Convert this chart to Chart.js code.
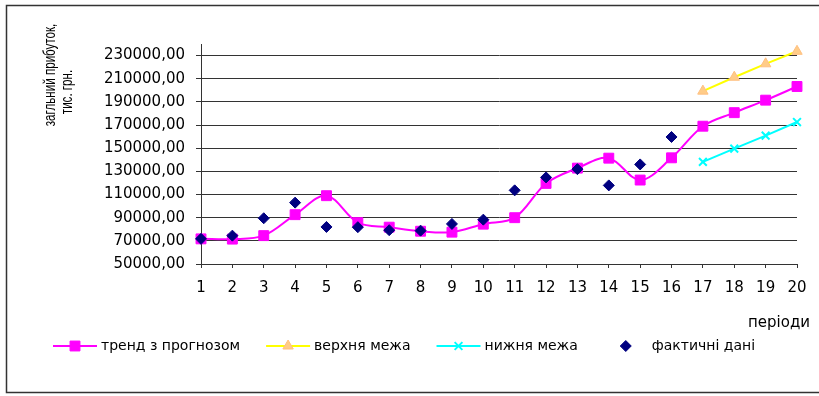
<!DOCTYPE html>
<html lang="uk">
<head>
<meta charset="utf-8">
<title>Загальний прибуток: тренд з прогнозом</title>
<script src="https://cdn.jsdelivr.net/npm/chart.js@4.4.1/dist/chart.umd.min.js"></script>
<style>
  html, body { margin: 0; padding: 0; background: #ffffff; overflow: hidden; }
  #wrap { position: relative; width: 819px; height: 396px; }
  canvas { display: block; }
</style>
</head>
<body>
<div id="wrap"><canvas id="chart" width="819" height="396"></canvas></div>
<script>
// Періоди (вісь X)
const periods = ['1','2','3','4','5','6','7','8','9','10','11','12','13','14','15','16','17','18','19','20'];

// Тренд з прогнозом на 17–20 періоди
const trend = [71700, 71500, 74500, 92600, 109000, 85700, 81800, 78300, 77500, 84400,
               90000, 119600, 132800, 141400, 122500, 141700, 169000, 180700, 191500, 203300];

// Верхня межа прогнозу
const upper = [null, null, null, null, null, null, null, null, null, null,
               null, null, null, null, null, null, 199300, 211300, 222900, 233700];

// Нижня межа прогнозу
const lower = [null, null, null, null, null, null, null, null, null, null,
               null, null, null, null, null, null, 138200, 149700, 160900, 172600];

// Фактичні дані
const actual = [71700, 74500, 89500, 103000, 82000, 81800, 79200, 78800, 84600, 88300,
                113600, 124800, 131900, 117900, 136000, 159700, null, null, null, null];

// Поділки осі Y
const yTicks = [50000, 70000, 90000, 110000, 130000, 150000, 170000, 190000, 210000, 230000];
const yMin = 50000;
const yMax = 240000;

const seriesNames = ['тренд з прогнозом', 'верхня межа', 'нижня межа', 'фактичні дані'];
const yTitle = ['загльний прибуток,', 'тис. грн.'];
const xTitle = 'періоди';

const TICK_FONT = { family: 'DejaVu Sans', size: 15 };
const LINE_COLOR = '#333333';

// Рамка діаграми
const framePlugin = {
  id: 'frame',
  afterDraw(chart) {
    const ctx = chart.ctx;
    ctx.save();
    ctx.strokeStyle = '#333333';
    ctx.lineWidth = 1.5;
    ctx.strokeRect(6.5, 5.5, 830, 387);
    ctx.restore();
  }
};

// Підписи осей
const titlesPlugin = {
  id: 'axisTitles',
  afterDraw(chart) {
    const ctx = chart.ctx;
    ctx.save();
    ctx.fillStyle = '#000000';
    ctx.textAlign = 'center';
    ctx.textBaseline = 'middle';
    ctx.font = '11.6px "Liberation Sans", Arial, sans-serif';
    const centers = [[50, 75], [67, 92]];
    yTitle.forEach((line, i) => {
      ctx.save();
      ctx.translate(centers[i][0], centers[i][1]);
      ctx.rotate(-Math.PI / 2);
      ctx.scale(1, 1.45);
      ctx.fillText(line, 0, 0);
      ctx.restore();
    });
    ctx.font = '15px "DejaVu Sans", sans-serif';
    ctx.textAlign = 'right';
    ctx.fillText(xTitle, 810, 323);
    ctx.restore();
  }
};

// Легенда: відрізок лінії з маркером і підпис
const legendPlugin = {
  id: 'lineLegend',
  afterDraw(chart) {
    const ctx = chart.ctx;
    const y = 346;
    const segment = 44;
    let x = 53;
    ctx.save();
    ctx.font = '14px "DejaVu Sans", sans-serif';
    ctx.textBaseline = 'middle';
    ctx.textAlign = 'left';
    chart.data.datasets.forEach((ds) => {
      const cx = x + segment / 2;
      if (ds.showLine !== false) {
        ctx.strokeStyle = ds.borderColor;
        ctx.lineWidth = ds.borderWidth;
        ctx.beginPath();
        ctx.moveTo(x, y);
        ctx.lineTo(x + segment, y);
        ctx.stroke();
      }
      ctx.fillStyle = ds.pointBackgroundColor;
      ctx.strokeStyle = ds.pointBorderColor;
      ctx.lineWidth = ds.pointBorderWidth;
      Chart.helpers.drawPoint(ctx, {
        pointStyle: ds.pointStyle,
        radius: ds.pointRadius,
        rotation: 0,
        borderWidth: ds.pointBorderWidth
      }, cx, y);
      ctx.fillStyle = '#000000';
      const tx = x + segment + 4;
      ctx.fillText(ds.label, tx, y);
      x = tx + ctx.measureText(ds.label).width + 26;
    });
    ctx.restore();
  }
};

new Chart(document.getElementById('chart'), {
  type: 'line',
  data: {
    labels: periods,
    datasets: [
      {
        label: seriesNames[0],
        data: trend,
        borderColor: '#FF00FF',
        borderWidth: 2,
        tension: 0.35,
        pointStyle: 'rect',
        pointRadius: 7,
        pointBackgroundColor: '#FF00FF',
        pointBorderColor: '#FF00FF',
        pointBorderWidth: 1,
        order: 3
      },
      {
        label: seriesNames[1],
        data: upper,
        borderColor: '#FFFF00',
        borderWidth: 2,
        tension: 0,
        pointStyle: 'triangle',
        pointRadius: 6,
        pointBackgroundColor: '#FFCC88',
        pointBorderColor: '#FFBF80',
        pointBorderWidth: 1,
        order: 2
      },
      {
        label: seriesNames[2],
        data: lower,
        borderColor: '#00FFFF',
        borderWidth: 2,
        tension: 0,
        pointStyle: 'crossRot',
        pointRadius: 5.5,
        pointBackgroundColor: '#00FFFF',
        pointBorderColor: '#00FFFF',
        pointBorderWidth: 2,
        order: 1
      },
      {
        label: seriesNames[3],
        data: actual,
        showLine: false,
        borderColor: '#000080',
        borderWidth: 0,
        pointStyle: 'rectRot',
        pointRadius: 5.5,
        pointBackgroundColor: '#000080',
        pointBorderColor: '#000080',
        pointBorderWidth: 1,
        order: 0
      }
    ]
  },
  options: {
    responsive: false,
    animation: false,
    devicePixelRatio: 1,
    layout: { padding: { top: 44, right: 22, left: 0, bottom: 0 } },
    plugins: {
      legend: { display: false },
      tooltip: { enabled: false },
      title: { display: false }
    },
    scales: {
      x: {
        type: 'category',
        offset: false,
        afterFit(scale) { scale.height = 132; },
        grid: {
          offset: false,
          drawOnChartArea: false,
          drawTicks: true,
          tickLength: 4,
          tickColor: LINE_COLOR,
          tickWidth: 1
        },
        border: { display: true, color: LINE_COLOR, width: 1 },
        ticks: {
          font: TICK_FONT,
          color: '#000000',
          padding: 11,
          maxRotation: 0,
          autoSkip: false
        }
      },
      y: {
        type: 'linear',
        min: yMin,
        max: yMax,
        afterFit(scale) { scale.width = 201; },
        afterBuildTicks(scale) {
          scale.ticks = yTicks.map(v => ({ value: v }));
        },
        grid: {
          color: LINE_COLOR,
          lineWidth: 1,
          drawTicks: true,
          tickLength: 5,
          tickColor: LINE_COLOR
        },
        border: { display: true, color: LINE_COLOR, width: 1 },
        ticks: {
          font: TICK_FONT,
          color: '#000000',
          padding: 11,
          callback: (v) => Number(v).toFixed(2).replace('.', ',')
        }
      }
    }
  },
  plugins: [framePlugin, titlesPlugin, legendPlugin]
});
</script>
</body>
</html>
